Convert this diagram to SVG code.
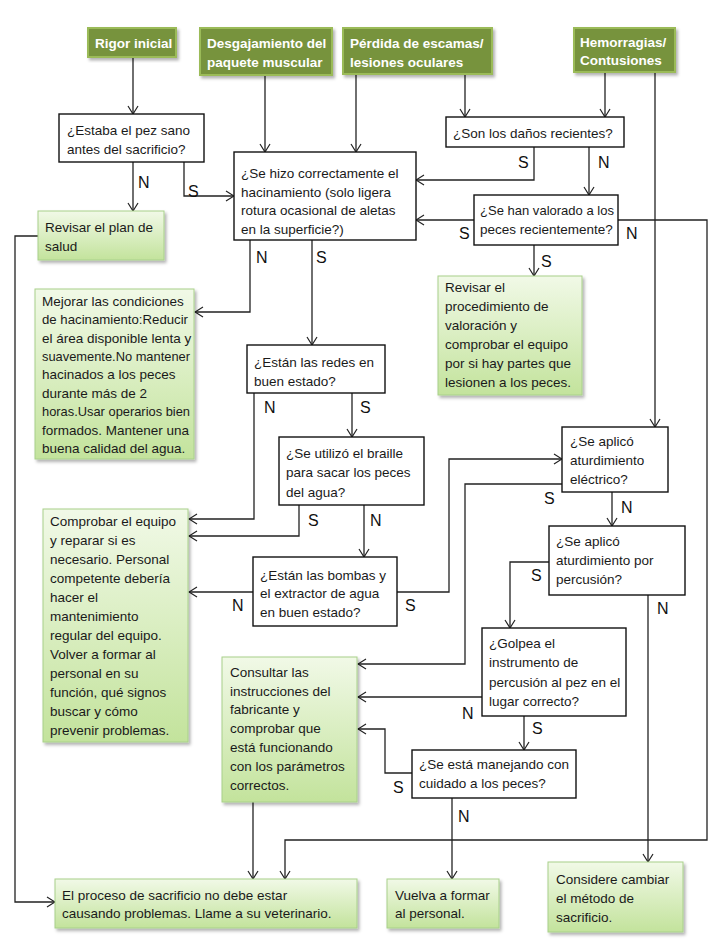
<svg xmlns="http://www.w3.org/2000/svg" width="720" height="944" viewBox="0 0 720 944">
<defs>
<linearGradient id="gg" x1="0" y1="0" x2="0" y2="1">
<stop offset="0" stop-color="#f1f9e7"/>
<stop offset="1" stop-color="#c3e39c"/>
</linearGradient>
<filter id="sh" x="-10%" y="-10%" width="130%" height="130%">
<feDropShadow dx="2" dy="2.5" stdDeviation="1.5" flood-color="#000" flood-opacity="0.3"/>
</filter>
<marker id="a" markerWidth="10" markerHeight="12" refX="9" refY="6" orient="auto" markerUnits="userSpaceOnUse">
<path d="M1,1 L9,6 L1,11" fill="none" stroke="#222" stroke-width="1.2"/>
</marker>
<style>
.q{fill:#fff;stroke:#111;stroke-width:1.4}
.g{fill:url(#gg);stroke:#a8d08a;stroke-width:1;filter:url(#sh)}
.h{fill:#77933c;stroke:#9bbb59;stroke-width:2;filter:url(#sh)}
text{font-family:"Liberation Sans",Arial,sans-serif;font-size:13.5px;fill:#1a1a1a}
.ht{font-weight:bold;fill:#fff}
.l{font-size:16px;fill:#111}
.c path{fill:none;stroke:#222;stroke-width:1.3;marker-end:url(#a)}
</style>
</defs>

<g id="connectors" class="c">
<path d="M133,57 V114"/>
<path d="M265,75 V152"/>
<path d="M356,74 V152"/>
<path d="M465,74 V117"/>
<path d="M605,72 V117"/>
<path d="M655,72 V427"/>
<path d="M133,162 V211"/>
<path d="M184,162 V196 H234"/>
<path d="M38,236 H15 V902 H55"/>
<path d="M250,240 V312 H195"/>
<path d="M312,240 V345"/>
<path d="M534,147 V180 H416"/>
<path d="M589,147 V195"/>
<path d="M474,220 H416"/>
<path d="M618,220 H707 V840 H285 V879"/>
<path d="M534,245 V276"/>
<path d="M254,393 V519 H189"/>
<path d="M352,393 V437"/>
<path d="M299,505 V536 H189"/>
<path d="M364,505 V557"/>
<path d="M253,592 H189"/>
<path d="M397,592 H449 V459 H562"/>
<path d="M562,484 H465 V664 H358"/>
<path d="M612,492 V526"/>
<path d="M549,562 H510 V628"/>
<path d="M648,595 V862"/>
<path d="M482,697 H358"/>
<path d="M524,716 V750"/>
<path d="M412,773 H385 V729 H358"/>
<path d="M452,798 V879"/>
<path d="M253,802 V879"/>
</g>

<g id="labels">
<text class="l" x="138" y="188">N</text>
<text class="l" x="188" y="197">S</text>
<text class="l" x="256" y="263">N</text>
<text class="l" x="316" y="263">S</text>
<text class="l" x="518" y="168">S</text>
<text class="l" x="598" y="168">N</text>
<text class="l" x="459" y="239">S</text>
<text class="l" x="626" y="239">N</text>
<text class="l" x="541" y="267">S</text>
<text class="l" x="264" y="413">N</text>
<text class="l" x="360" y="413">S</text>
<text class="l" x="308" y="526">S</text>
<text class="l" x="370" y="526">N</text>
<text class="l" x="232" y="611">N</text>
<text class="l" x="405" y="611">S</text>
<text class="l" x="544" y="504">S</text>
<text class="l" x="621" y="513">N</text>
<text class="l" x="531" y="581">S</text>
<text class="l" x="657" y="614">N</text>
<text class="l" x="462" y="719">N</text>
<text class="l" x="532" y="734">S</text>
<text class="l" x="393" y="793">S</text>
<text class="l" x="458" y="822">N</text>
</g>

<g id="rigor">
<rect class="h" x="88" y="28" width="88" height="29"/>
<text class="ht" x="95" y="48">Rigor inicial</text>
</g>
<g id="desgajamiento">
<rect class="h" x="200" y="28" width="132" height="47"/>
<text class="ht" x="207" y="48">Desgajamiento del</text>
<text class="ht" x="207" y="67">paquete muscular</text>
</g>
<g id="perdida">
<rect class="h" x="343" y="28" width="149" height="46"/>
<text class="ht" x="350" y="48">Pérdida de escamas/</text>
<text class="ht" x="350" y="67">lesiones oculares</text>
</g>
<g id="hemorragias">
<rect class="h" x="574" y="28" width="101" height="44"/>
<text class="ht" x="580" y="47">Hemorragias/</text>
<text class="ht" x="580" y="65">Contusiones</text>
</g>

<g id="estaba">
<rect class="q" x="59" y="114" width="145" height="48"/>
<text x="67" y="135">¿Estaba el pez sano</text>
<text x="67" y="154">antes del sacrificio?</text>
</g>
<g id="hacinamiento">
<rect class="q" x="234" y="152" width="182" height="88"/>
<text x="241" y="178">¿Se hizo correctamente el</text>
<text x="241" y="197">hacinamiento (solo ligera</text>
<text x="241" y="215">rotura ocasional de aletas</text>
<text x="241" y="234">en la superficie?)</text>
</g>
<g id="son">
<rect class="q" x="446" y="117" width="178" height="30"/>
<text x="453" y="138">¿Son los daños recientes?</text>
</g>
<g id="valorado">
<rect class="q" x="474" y="195" width="144" height="50"/>
<text x="480" y="215" textLength="134" lengthAdjust="spacingAndGlyphs">¿Se han valorado a los</text>
<text x="480" y="234">peces recientemente?</text>
</g>
<g id="revisar-plan">
<rect class="g" x="38" y="211" width="126" height="49"/>
<text x="45" y="232">Revisar el plan de</text>
<text x="45" y="251">salud</text>
</g>
<g id="mejorar">
<rect class="g" x="35" y="289" width="159" height="170"/>
<text x="42" y="306">Mejorar las condiciones</text>
<text x="42" y="324" textLength="146" lengthAdjust="spacingAndGlyphs">de hacinamiento:Reducir</text>
<text x="42" y="343">el área disponible lenta y</text>
<text x="42" y="361" textLength="148" lengthAdjust="spacingAndGlyphs">suavemente.No mantener</text>
<text x="42" y="379">hacinados a los peces</text>
<text x="42" y="398">durante más de 2</text>
<text x="42" y="416" textLength="148" lengthAdjust="spacingAndGlyphs">horas.Usar operarios bien</text>
<text x="42" y="435">formados. Mantener una</text>
<text x="42" y="453">buena calidad del agua.</text>
</g>
<g id="revisar-proc">
<rect class="g" x="438" y="276" width="144" height="119"/>
<text x="445" y="292">Revisar el</text>
<text x="445" y="311">procedimiento de</text>
<text x="445" y="330">valoración y</text>
<text x="445" y="349">comprobar el equipo</text>
<text x="445" y="368">por si hay partes que</text>
<text x="445" y="387">lesionen  a los peces.</text>
</g>
<g id="redes">
<rect class="q" x="247" y="345" width="138" height="48"/>
<text x="254" y="367">¿Están las redes en</text>
<text x="254" y="386">buen estado?</text>
</g>
<g id="braille">
<rect class="q" x="279" y="437" width="145" height="68"/>
<text x="286" y="458">¿Se utilizó el braille</text>
<text x="286" y="477">para sacar los peces</text>
<text x="286" y="497">del agua?</text>
</g>
<g id="comprobar">
<rect class="g" x="43" y="509" width="145" height="233"/>
<text x="50" y="526">Comprobar el equipo</text>
<text x="50" y="545">y reparar si es</text>
<text x="50" y="564">necesario. Personal</text>
<text x="50" y="583">competente debería</text>
<text x="50" y="602">hacer el</text>
<text x="50" y="621">mantenimiento</text>
<text x="50" y="640">regular del equipo.</text>
<text x="50" y="659">Volver a formar al</text>
<text x="50" y="678">personal en su</text>
<text x="50" y="697">función, qué signos</text>
<text x="50" y="716">buscar y cómo</text>
<text x="50" y="735">prevenir problemas.</text>
</g>
<g id="bombas">
<rect class="q" x="253" y="557" width="144" height="69"/>
<text x="260" y="580">¿Están las bombas y</text>
<text x="260" y="598">el extractor de agua</text>
<text x="260" y="617">en buen estado?</text>
</g>
<g id="electrico">
<rect class="q" x="562" y="427" width="106" height="65"/>
<text x="570" y="446">¿Se aplicó</text>
<text x="570" y="465">aturdimiento</text>
<text x="570" y="484">eléctrico?</text>
</g>
<g id="percusion">
<rect class="q" x="549" y="526" width="136" height="69"/>
<text x="556" y="546">¿Se aplicó</text>
<text x="556" y="565">aturdimiento por</text>
<text x="556" y="584">percusión?</text>
</g>
<g id="golpea">
<rect class="q" x="482" y="628" width="144" height="88"/>
<text x="489" y="648">¿Golpea el</text>
<text x="489" y="667">instrumento de</text>
<text x="489" y="687">percusión al pez en el</text>
<text x="489" y="706">lugar correcto?</text>
</g>
<g id="consultar">
<rect class="g" x="222" y="657" width="135" height="145"/>
<text x="230" y="677">Consultar las</text>
<text x="230" y="696">instrucciones del</text>
<text x="230" y="714">fabricante y</text>
<text x="230" y="733">comprobar que</text>
<text x="230" y="752">está funcionando</text>
<text x="230" y="771">con los parámetros</text>
<text x="230" y="790">correctos.</text>
</g>
<g id="manejando">
<rect class="q" x="412" y="750" width="164" height="48"/>
<text x="419" y="769">¿Se está manejando con</text>
<text x="419" y="788">cuidado a los peces?</text>
</g>
<g id="proceso">
<rect class="g" x="55" y="879" width="302" height="49"/>
<text x="62" y="900">El proceso de sacrificio no debe estar</text>
<text x="62" y="918">causando problemas. Llame a su veterinario.</text>
</g>
<g id="vuelva">
<rect class="g" x="387" y="879" width="112" height="49"/>
<text x="395" y="900">Vuelva a formar</text>
<text x="395" y="918">al personal.</text>
</g>
<g id="considere">
<rect class="g" x="548" y="862" width="135" height="70"/>
<text x="556" y="884">Considere cambiar</text>
<text x="556" y="903">el método de</text>
<text x="556" y="922">sacrificio.</text>
</g>
</svg>
